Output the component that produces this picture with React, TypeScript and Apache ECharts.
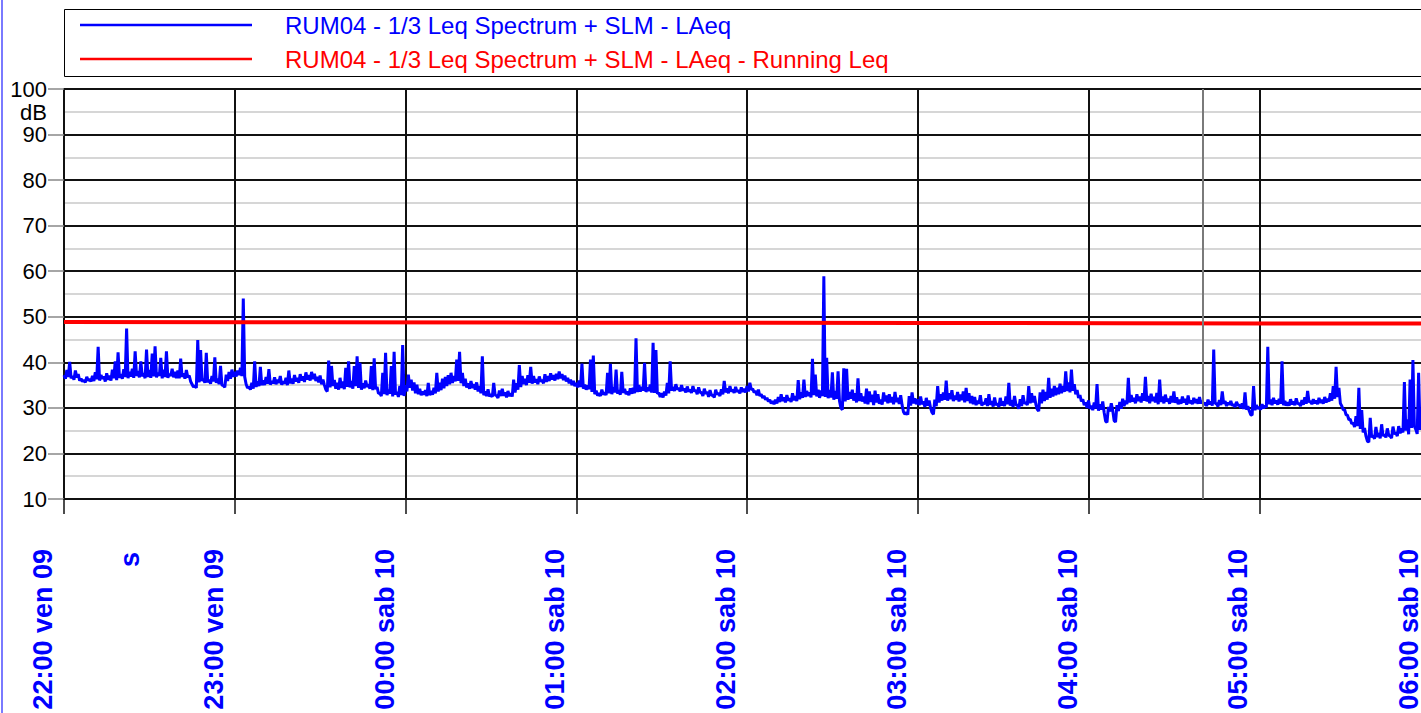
import React, { useEffect, useRef } from 'react';
import * as echarts from 'echarts';

const FONT = '"Liberation Sans", Arial, sans-serif';

const seriesNames = [
  'RUM04 - 1/3 Leq Spectrum + SLM - LAeq',
  'RUM04 - 1/3 Leq Spectrum + SLM - LAeq - Running Leq',
];

// hour tick labels, one per 60 minutes from 22:00
const hourLabels = [
  '22:00 ven 09', '23:00 ven 09', '00:00 sab 10', '01:00 sab 10', '02:00 sab 10',
  '03:00 sab 10', '04:00 sab 10', '05:00 sab 10', '06:00 sab 10',
];

// LAeq, per-minute upper reading from 22:00 (dB)
const laeqHigh = [
  37.2, 38.3, 40.1, 37.0, 38.2, 37.4, 36.4, 36.1, 36.8, 36.3,
  37.0, 37.8, 43.4, 37.2, 36.9, 37.6, 37.1, 38.4, 40.2, 42.2,
  37.4, 38.5, 47.4, 37.9, 38.6, 42.4, 38.1, 40.2, 37.6, 42.8,
  38.3, 41.9, 43.5, 37.7, 41.0, 38.4, 42.4, 37.5, 38.6, 37.9,
  38.2, 40.8, 37.6, 38.3, 37.1, 35.2, 34.9, 44.9, 42.7, 36.4,
  42.1, 36.2, 37.0, 41.1, 36.4, 39.2, 34.9, 37.3, 37.9, 38.4,
  37.9, 38.2, 38.8, 54.0, 35.2, 34.6, 35.5, 40.2, 35.8, 39.0,
  36.0, 36.8, 38.5, 35.9, 36.7, 36.2, 37.0, 35.8, 36.6, 38.2,
  36.4, 37.2, 36.6, 37.4, 36.9, 37.8, 37.2, 37.9, 37.5, 36.8,
  37.1, 36.2, 34.0, 40.4, 39.2, 36.1, 35.5, 36.6, 35.8, 38.8,
  40.2, 35.9, 39.2, 41.3, 39.9, 35.4, 36.0, 35.2, 39.2, 40.9,
  34.6, 33.2, 37.7, 42.1, 34.0, 39.2, 42.3, 33.5, 34.8, 43.8,
  35.0, 37.3, 36.2, 35.6, 35.1, 34.2, 33.6, 33.9, 35.5, 33.7,
  34.4, 37.7, 35.5, 36.4, 36.8, 37.2, 37.7, 37.0, 40.6, 42.3,
  37.7, 36.4, 35.4, 35.9, 35.2, 35.6, 34.8, 41.3, 33.6, 34.1,
  33.0, 35.5, 32.7, 33.8, 34.2, 33.4, 33.7, 33.2, 36.2, 35.4,
  39.4, 37.0, 36.4, 37.2, 39.0, 37.0, 36.3, 36.9, 36.1, 37.4,
  37.0, 37.6, 37.2, 37.5, 38.0, 37.4, 37.1, 36.6, 36.2, 35.9,
  35.5, 36.0, 39.7, 35.1, 34.9, 40.6, 41.5, 33.8, 33.2, 34.0,
  33.4, 37.7, 39.7, 34.6, 38.4, 33.9, 37.9, 34.2, 33.6, 34.3,
  34.4, 45.3, 35.0, 34.6, 39.9, 34.5, 35.1, 44.3, 42.7, 33.3,
  33.2, 33.6, 35.5, 40.2, 34.6, 35.2, 34.4, 35.0, 34.2, 34.7,
  34.0, 34.8, 33.9, 34.5, 33.4, 34.2, 33.5, 33.9, 32.8, 34.0,
  33.3, 34.1, 35.9, 34.3, 34.8, 34.0, 34.6, 33.9, 34.5, 34.2,
  34.8, 35.5, 34.2, 33.7, 34.0, 33.0, 32.6, 32.2, 31.8, 31.5,
  31.8, 32.4, 33.0, 32.3, 32.8, 32.1, 33.2, 32.6, 36.1, 33.4,
  36.2, 33.7, 33.4, 40.8, 37.3, 34.0, 33.8, 58.9, 41.0, 33.9,
  37.8, 33.7, 38.0, 30.0, 38.7, 38.6, 33.5, 34.0, 33.2, 36.5,
  33.2, 32.5, 34.2, 33.6, 32.9, 33.8, 33.0, 31.8, 33.4, 32.7,
  33.0, 32.4, 33.5, 32.2, 32.8, 29.1, 29.0, 32.6, 33.4, 32.1,
  31.9, 32.5, 31.4, 32.2, 31.6, 29.0, 31.8, 34.8, 33.0, 33.4,
  36.0, 33.2, 33.9, 32.7, 33.5, 32.9, 33.6, 34.4, 33.2, 32.6,
  32.4, 31.6, 32.8, 31.2, 32.1, 33.0, 31.5, 32.3, 31.0, 32.2,
  31.4, 32.5, 35.5, 31.7, 32.6, 30.6, 31.9, 32.8, 31.2, 34.8,
  33.2, 32.6, 29.7, 33.4, 34.0, 33.5, 36.6, 34.2, 34.8, 34.4,
  35.3, 34.8, 38.0, 35.6, 38.4, 35.2, 33.9, 32.8, 31.9, 31.2,
  31.6, 30.5, 31.2, 35.2, 30.8, 31.4, 27.1, 30.2, 31.0, 27.2,
  30.6, 31.3, 32.0, 31.6, 36.6, 32.8, 32.2, 33.0, 32.5, 33.2,
  36.8, 32.6, 33.1, 32.4, 33.3, 36.2, 32.5, 32.9, 32.0, 32.6,
  33.6, 32.3, 31.8, 32.5, 32.0, 32.7, 31.6, 32.2, 31.9, 32.4,
  31.6, 31.2, 31.8, 31.4, 42.8, 31.0, 31.7, 33.6, 31.5, 31.2,
  31.5, 30.8, 31.3, 30.6, 31.0, 33.4, 30.4, 28.5, 34.8, 30.6,
  30.2, 30.8, 30.5, 43.4, 31.8, 32.2, 31.6, 32.0, 40.2, 31.5,
  31.2, 31.9, 31.4, 32.1, 31.0, 31.7, 32.3, 33.7, 31.5, 31.9,
  31.6, 32.2, 31.8, 32.4, 32.0, 33.2, 34.8, 39.0, 34.4, 30.4,
  29.6, 28.4, 27.5, 26.7, 28.2, 34.4, 29.5, 25.6, 22.7, 27.8,
  24.0, 25.8, 24.5, 26.4, 24.2, 25.5, 23.8, 25.9, 24.6, 26.0,
  25.5, 35.7, 27.5, 36.2, 40.5, 25.3, 37.7, 28.0, 36.0, 29.0,
  34.0,
];

// LAeq, per-minute lower reading (bottom of the noise band), dB
const laeqLow = [
  36.4, 36.8, 36.5, 36.2, 36.7, 36.0, 35.8, 35.6, 36.0, 35.8,
  35.9, 36.3, 36.0, 36.4, 35.8, 36.2, 36.0, 36.5, 36.1, 36.6,
  36.4, 36.8, 36.5, 36.9, 36.6, 37.0, 36.7, 36.9, 36.5, 36.8,
  36.6, 36.9, 36.7, 37.0, 36.5, 36.8, 36.6, 37.0, 36.7, 36.5,
  36.5, 36.8, 36.4, 36.7, 35.8, 34.6, 34.4, 35.6, 35.9, 35.5,
  35.6, 35.3, 35.8, 35.5, 35.2, 35.0, 34.5, 35.9, 36.4, 36.8,
  36.9, 37.2, 37.0, 36.8, 34.4, 34.0, 34.2, 34.6, 34.8, 35.0,
  35.0, 35.3, 35.1, 35.4, 35.2, 35.5, 35.1, 35.3, 35.0, 35.4,
  35.3, 35.8, 35.5, 36.0, 35.7, 36.2, 36.0, 36.3, 35.9, 35.6,
  35.2, 35.0, 33.6, 34.5, 34.8, 34.2, 34.0, 34.4, 34.1, 34.6,
  34.5, 34.2, 34.8, 34.4, 34.0, 34.3, 34.6, 34.2, 33.9, 34.1,
  33.2, 32.6, 33.0, 32.8, 33.1, 32.5, 32.9, 32.4, 32.8, 32.6,
  33.6, 34.4, 33.8, 33.2, 33.0, 32.8, 32.9, 32.6, 32.8, 32.9,
  33.2, 33.6, 33.9, 34.3, 34.8, 35.2, 35.5, 35.8, 35.9, 35.4,
  34.8, 34.5, 34.2, 34.4, 34.0, 33.6, 33.2, 32.8, 32.6, 32.5,
  32.4, 32.8, 32.2, 32.6, 32.7, 32.3, 32.6, 32.5, 33.4, 34.0,
  34.6, 35.2, 35.0, 35.5, 35.3, 35.6, 35.2, 35.8, 35.4, 35.7,
  35.9, 36.2, 36.0, 36.3, 36.5, 36.1, 35.8, 35.4, 35.0, 34.8,
  34.5, 34.6, 34.2, 34.0, 34.1, 33.5, 33.0, 32.7, 32.6, 32.9,
  32.8, 33.2, 33.0, 33.4, 33.1, 32.9, 33.3, 33.0, 32.8, 33.1,
  33.2, 33.5, 33.6, 33.8, 33.5, 33.7, 33.4, 33.3, 33.1, 32.4,
  32.3, 32.7, 33.2, 33.8, 33.7, 34.0, 33.6, 33.8, 33.4, 33.6,
  33.3, 33.6, 33.0, 33.4, 32.6, 33.1, 32.4, 32.8, 32.3, 32.9,
  32.6, 33.0, 33.4, 33.2, 33.6, 33.3, 33.5, 33.2, 33.5, 33.4,
  33.6, 34.0, 33.4, 32.8, 32.6, 32.2, 31.8, 31.4, 31.0, 30.8,
  31.0, 31.3, 31.5, 31.2, 31.6, 31.3, 31.7, 31.5, 31.9, 32.2,
  32.4, 32.6, 32.3, 32.8, 32.5, 32.2, 32.6, 32.4, 32.1, 32.3,
  31.8, 32.0, 31.5, 29.6, 31.4, 31.8, 32.0, 31.6, 31.2, 31.5,
  31.4, 31.0, 30.8, 31.3, 30.6, 31.2, 30.9, 30.7, 31.4, 31.0,
  31.2, 30.8, 31.3, 30.9, 30.6, 28.6, 28.5, 30.5, 31.0, 30.8,
  30.6, 30.8, 30.2, 30.5, 30.0, 28.6, 30.4, 31.2, 31.6, 31.8,
  31.6, 31.9, 31.5, 31.8, 31.4, 31.7, 31.2, 31.5, 31.0, 30.8,
  30.6, 30.9, 30.5, 30.8, 30.4, 30.7, 30.3, 30.6, 30.2, 30.5,
  30.4, 30.8, 30.5, 30.2, 30.7, 29.8, 30.4, 30.9, 30.6, 31.0,
  31.2, 30.8, 29.3, 31.0, 31.5, 31.8, 32.2, 32.5, 32.8, 33.0,
  33.2, 33.5, 33.7, 33.4, 33.8, 33.0, 32.2, 31.4, 30.6, 30.0,
  29.8, 29.5, 29.9, 29.4, 29.6, 29.0, 26.8, 29.2, 29.5, 26.9,
  29.3, 29.8, 30.4, 30.8, 31.2, 31.4, 31.0, 31.5, 31.2, 31.6,
  31.4, 31.0, 31.5, 31.2, 30.8, 31.3, 31.0, 31.4, 30.9, 31.2,
  31.1, 30.8, 30.9, 31.2, 30.7, 31.0, 30.8, 31.1, 30.9, 31.0,
  30.6, 30.4, 30.8, 30.5, 30.9, 30.3, 30.6, 30.9, 30.4, 30.7,
  30.5, 30.2, 30.6, 30.0, 29.8, 29.6, 29.3, 28.4, 29.5, 29.8,
  29.6, 29.9, 30.1, 30.8, 30.6, 31.0, 30.7, 30.9, 30.6, 30.5,
  30.5, 30.8, 30.6, 30.9, 30.4, 30.7, 30.9, 31.2, 30.8, 31.0,
  30.8, 31.1, 30.9, 31.2, 31.4, 31.6, 32.0, 32.4, 31.0, 29.6,
  28.5, 27.4, 26.5, 25.8, 26.0, 25.4, 24.6, 23.8, 22.5, 23.5,
  23.2, 23.6, 23.3, 23.8, 23.5, 24.0, 23.4, 24.2, 23.8, 24.4,
  24.6, 25.0, 24.2, 25.6, 26.0, 24.3, 25.2, 24.0, 25.5, 24.5,
  25.0,
];

// running Leq (minutes from 22:00, dB)
const runningLeqMinutes = [0, 86, 180, 300, 370, 450, 480];
const runningLeqValues = [48.85, 48.8, 48.7, 48.65, 48.6, 48.5, 48.5];

// grey cursor line (minutes from 22:00 -> 04:40)
const cursorMinute = 400;

export default function App() {
  const ref = useRef<HTMLDivElement>(null);

  useEffect(() => {
    document.body.style.margin = '0';
    document.body.style.overflow = 'hidden';
    const chart = echarts.init(ref.current!, null, { renderer: 'svg' });

    const laeqData: number[][] = [];
    laeqHigh.forEach((v, i) => {
      laeqData.push([i, v]);
      if (i < laeqLow.length) laeqData.push([i + 0.5, laeqLow[i]]);
    });

    const option: any = {
      animation: false,
      backgroundColor: '#ffffff',
      grid: { left: 64, top: 89, width: 1366, height: 410, outerBoundsMode: 'none', containLabel: false },
      legend: {
        orient: 'vertical',
        left: 80,
        top: 13,
        padding: 0,
        icon: 'rect',
        itemWidth: 172,
        itemHeight: 2.5,
        itemGap: 10,
        textStyle: { fontSize: 24, fontFamily: FONT, padding: [0, 0, 0, 28] },
        data: [
          { name: seriesNames[0], textStyle: { color: '#0000ff' } },
          { name: seriesNames[1], textStyle: { color: '#ff0000' } },
        ],
      },
      xAxis: {
        type: 'value',
        min: 0,
        max: 480,
        interval: 60,
        axisLine: { show: true, lineStyle: { color: '#111', width: 2 } },
        axisTick: { show: true, length: 15, lineStyle: { color: '#111', width: 1.5 } },
        axisLabel: {
          rotate: 90,
          margin: 50,
          fontSize: 27,
          fontWeight: 'bold',
          fontFamily: FONT,
          color: '#0000ff',
          lineHeight: 42,
          formatter: (v: number) => (hourLabels[Math.round(v / 60)] ?? '') + '\n ',
        },
        splitLine: { show: true, lineStyle: { color: '#111', width: 2 } },
      },
      yAxis: {
        type: 'value',
        min: 10,
        max: 100,
        interval: 10,
        axisLine: { show: true, lineStyle: { color: '#111', width: 2 } },
        axisTick: { show: true, length: 16, lineStyle: { color: '#888', width: 1.5 } },
        minorTick: { show: false, splitNumber: 2 },
        axisLabel: { margin: 17, fontSize: 22, color: '#000', fontFamily: FONT },
        splitLine: { show: true, lineStyle: { color: '#111', width: 2 } },
        minorSplitLine: { show: true, lineStyle: { color: '#c8c8c8', width: 1.5 } },
      },
      series: [
        {
          name: seriesNames[0],
          type: 'line',
          symbol: 'none',
          lineStyle: { color: '#0000ff', width: 3 },
          itemStyle: { color: '#0000ff' },
          data: laeqData,
          markLine: {
            silent: true,
            symbol: 'none',
            label: { show: false },
            lineStyle: { color: '#7a7a7a', width: 2, type: 'solid' },
            data: [{ xAxis: cursorMinute }],
          },
        },
        {
          name: seriesNames[1],
          type: 'line',
          symbol: 'none',
          lineStyle: { color: '#ff0000', width: 4 },
          itemStyle: { color: '#ff0000' },
          data: runningLeqMinutes.map((m, i) => [m, runningLeqValues[i]]),
        },
      ],
      graphic: [
        {
          type: 'rect',
          shape: { x: 64.5, y: 9.5, width: 1500, height: 67 },
          style: { fill: 'none', stroke: '#000', lineWidth: 1 },
          silent: true,
        },
        {
          type: 'rect',
          shape: { x: 1, y: 0, width: 2, height: 713 },
          style: { fill: '#7a7aff' },
          silent: true,
        },
        {
          type: 'text',
          x: 47,
          y: 112,
          style: { text: 'dB', fontSize: 22, fontFamily: FONT, fill: '#000', align: 'right', verticalAlign: 'middle' },
          silent: true,
        },
        {
          type: 'text',
          x: 130,
          y: 552,
          rotation: Math.PI / 2,
          style: { text: 's', fontSize: 27, fontWeight: 'bold', fontFamily: FONT, fill: '#0000ff', align: 'right', verticalAlign: 'middle' },
          silent: true,
        },
      ],
    };
    chart.setOption(option);
    return () => chart.dispose();
  }, []);

  return <div ref={ref} style={{ width: 1450, height: 713 }} />;
}
